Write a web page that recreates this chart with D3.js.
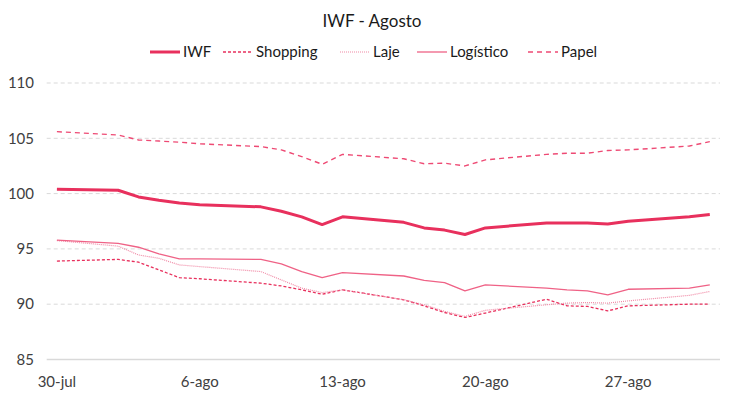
<!DOCTYPE html>
<html>
<head>
<meta charset="utf-8">
<script src="https://cdn.jsdelivr.net/npm/d3@7"></script>
<style>
  body { margin: 0; background: #fff; }
  svg { display: block; font-family: "Source Sans Pro", Lato, "Open Sans", sans-serif; }
</style>
</head>
<body>
<svg id="chart" width="734" height="398"></svg>
<script>
// trading days, aug 2021
const dates = ["2021-07-30", "2021-08-02", "2021-08-03", "2021-08-04", "2021-08-05", "2021-08-06",
  "2021-08-09", "2021-08-10", "2021-08-11", "2021-08-12", "2021-08-13",
  "2021-08-16", "2021-08-17", "2021-08-18", "2021-08-19", "2021-08-20",
  "2021-08-23", "2021-08-24", "2021-08-25", "2021-08-26", "2021-08-27",
  "2021-08-30", "2021-08-31"];

const iwf = [100.4, 100.3, 99.7, 99.4, 99.15, 99.0, 98.8, 98.4, 97.9, 97.2, 97.9, 97.4, 96.9, 96.7, 96.3, 96.9,
  97.35, 97.35, 97.35, 97.25, 97.5, 97.9, 98.1];
const shopping = [93.9, 94.05, 93.8, 93.1, 92.4, 92.3, 91.9, 91.65, 91.3, 90.9, 91.3, 90.4, 89.85, 89.25, 88.8, 89.2,
  90.45, 89.85, 89.8, 89.4, 89.85, 90.0, 90.0];
const laje = [95.75, 95.25, 94.45, 94.15, 93.55, 93.4, 92.95, 92.2, 91.45, 91.05, 91.3, 90.4, 89.95, 89.35, 88.9, 89.45,
  89.95, 90.1, 90.15, 90.1, 90.3, 90.8, 91.15];
const logistico = [95.8, 95.5, 95.15, 94.55, 94.1, 94.1, 94.05, 93.65, 92.95, 92.4, 92.85, 92.55, 92.15, 91.95, 91.2, 91.75,
  91.45, 91.3, 91.2, 90.85, 91.35, 91.45, 91.75];
const papel = [105.6, 105.3, 104.85, 104.75, 104.65, 104.5, 104.25, 103.95, 103.35, 102.65, 103.55, 103.15, 102.7, 102.75, 102.5, 103.05,
  103.55, 103.65, 103.65, 103.9, 103.95, 104.3, 104.7];

const yTicks = [85, 90, 95, 100, 105, 110];
const xTickDates = ["2021-07-30", "2021-08-06", "2021-08-13", "2021-08-20", "2021-08-27"];
const monthNames = ["jan", "fev", "mar", "abr", "mai", "jun", "jul", "ago", "set", "out", "nov", "dez"];

const series = [
  { name: "IWF", values: iwf, color: "#e8305d", width: 3, dash: null },
  { name: "Shopping", values: shopping, color: "#e8305d", width: 1.3, dash: "3,2" },
  { name: "Laje", values: laje, color: "#f08aa6", width: 1.2, dash: "1,1" },
  { name: "Logístico", values: logistico, color: "#ef6286", width: 1.3, dash: null },
  { name: "Papel", values: papel, color: "#ee4a74", width: 1.4, dash: "5,4" },
];

const parse = d3.timeParse("%Y-%m-%d");
const parsedDates = dates.map(parse);
const day = 864e5;

const svg = d3.select("#chart");
const plotLeft = 46.7, plotRight = 720, plotTop = 83, plotBottom = 359.5;

const x = d3.scaleTime()
  .domain([new Date(parsedDates[0].getTime() - day / 2), new Date(parsedDates[parsedDates.length - 1].getTime() + day / 2)])
  .range([plotLeft, plotRight]);
const y = d3.scaleLinear().domain([85, 110]).range([plotBottom, plotTop]);

// gridlines
svg.append("g")
  .selectAll("line")
  .data(yTicks)
  .join("line")
  .attr("x1", plotLeft)
  .attr("x2", plotRight)
  .attr("y1", (d) => y(d))
  .attr("y2", (d) => y(d))
  .attr("stroke", "#d9d9d9")
  .attr("stroke-width", (d) => (d === 85 ? 1.5 : 1))
  .attr("stroke-dasharray", (d) => (d === 85 ? null : "4,3"));

// y labels
svg.append("g")
  .selectAll("text")
  .data(yTicks)
  .join("text")
  .attr("x", 34)
  .attr("y", (d) => y(d))
  .attr("dy", "0.35em")
  .attr("text-anchor", "end")
  .attr("fill", "#404040")
  .attr("font-size", 15)
  .text((d) => d);

// x labels
svg.append("g")
  .selectAll("text")
  .data(xTickDates.map(parse))
  .join("text")
  .attr("x", (d) => x(d))
  .attr("y", 387)
  .attr("text-anchor", "middle")
  .attr("fill", "#404040")
  .attr("font-size", 15)
  .text((d) => `${d.getDate()}-${monthNames[d.getMonth()]}`);

const line = d3.line()
  .x((d, i) => x(parsedDates[i]))
  .y((d) => y(d));

// draw thin ones first, IWF on top
[...series.slice(1), series[0]].forEach((s) => {
  svg.append("path")
    .datum(s.values)
    .attr("d", line)
    .attr("fill", "none")
    .attr("stroke", s.color)
    .attr("stroke-width", s.width)
    .attr("stroke-dasharray", s.dash)
    .attr("stroke-linejoin", "round");
});

// title
svg.append("text")
  .attr("x", 372)
  .attr("y", 27)
  .attr("text-anchor", "middle")
  .attr("fill", "#1a1a1a")
  .attr("font-size", 17)
  .text("IWF - Agosto");

// legend
const legendX = [150, 223, 340, 417, 528];
const legend = svg.append("g");
series.forEach((s, i) => {
  const g = legend.append("g").attr("transform", `translate(${legendX[i]}, 52)`);
  g.append("line")
    .attr("x1", 0)
    .attr("x2", 30)
    .attr("stroke", s.color)
    .attr("stroke-width", s.width)
    .attr("stroke-dasharray", s.dash);
  g.append("text")
    .attr("x", 33)
    .attr("dy", "0.35em")
    .attr("fill", "#1a1a1a")
    .attr("font-size", 15)
    .text(s.name);
});
</script>
</body>
</html>
